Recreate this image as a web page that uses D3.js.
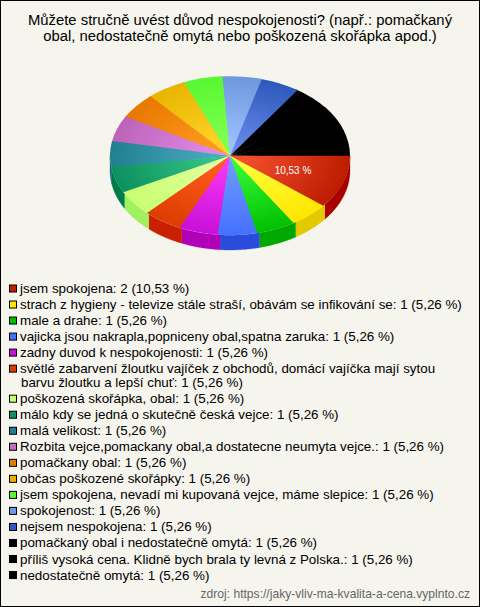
<!DOCTYPE html>
<html><head><meta charset="utf-8">
<script src="https://cdn.jsdelivr.net/npm/d3@7"></script>
<style>html,body{margin:0;padding:0;background:#f5f4ed}svg{display:block}text{font-family:"Liberation Sans",Arial,sans-serif}</style>
</head><body><svg id="c" width="480" height="607"></svg>
<script>
const titleLines=["Můžete stručně uvést důvod nespokojenosti? (např.: pomačkaný","obal, nedostatečně omytá nebo poškozená skořápka apod.)"];
const source="zdroj: https://jaky-vliv-ma-kvalita-a-cena.vyplnto.cz";
const categories=[
["jsem spokojena"],
["strach z hygieny - televize stále straší, obávám se infikování se"],
["male a drahe"],
["vajicka jsou nakrapla,popniceny obal,spatna zaruka"],
["zadny duvod k nespokojenosti"],
["světlé zabarvení žloutku vajíček z obchodů, domácí vajíčka mají sytou","barvu žloutku a lepší chuť"],
["poškozená skořápka, obal"],
["málo kdy se jedná o skutečně česká vejce"],
["malá velikost"],
["Rozbita vejce,pomackany obal,a dostatecne neumyta vejce."],
["pomačkany obal"],
["občas poškozené skořápky"],
["jsem spokojena, nevadí mi kupovaná vejce, máme slepice"],
["spokojenost"],
["nejsem nespokojena"],
["pomačkaný obal i nedostatečně omytá"],
["příliš vysoká cena. Klidně bych brala ty levná z Polska."],
["nedostatečně omytá"]];
const counts=[2,1,1,1,1,1,1,1,1,1,1,1,1,1,1,1,1,1];
const lightColors=["#f24e2c","#ffff3a","#34f634","#6c98ff","#f634f6","#ff5c1e","#e2ffa0","#34c484","#48a8c0","#e08ae8","#ff9a20","#ffd428","#80ff50","#9cc0ff","#6488e8","#000","#000","#000"];
const darkColors=["#bc1c00","#ffe600","#00c000","#4470ff","#c810d8","#dc3c00","#c8ff70","#0c9060","#20808f","#bc62b8","#e87800","#e8b400","#58f830","#6c98dc","#2e58bc","#000","#000","#000"];
const wallColors=["#a80000","#e2ca00","#00a800","#2a4cdc","#b000b8","#c82000","#a0f060","#007c4c","#106878","#9c4c9c","#c06000","#c09000","#40c020","#5080c0","#2040a0","#000","#000","#000"];
const swatchColors=["#c02000","#ffe600","#00c000","#4470ff","#c810d8","#e03c00","#c8ff70","#109060","#208090","#c070c0","#e87800","#e8b400","#58f830","#7098e0","#3058c0","#000","#000","#000"];

const svg=d3.select("#c");
svg.append("rect").attr("x",.5).attr("y",.5).attr("width",479).attr("height",606).attr("fill","#f5f4ed").attr("stroke","#000");
const total=d3.sum(counts);
const pct=d3.format(".2f");
const fmt=v=>pct(v/total*100).replace(".",",")+" %";

svg.append("g").selectAll("text").data(titleLines).join("text")
 .attr("x",240).attr("y",(d,i)=>25+i*15.5).attr("text-anchor","middle").attr("font-size",14.85).attr("fill","#000").text(d=>d);

const cx=230,cy=155.7,rx=120,ry=79.5,depth=14.8;
const ratio=ry/rx;
const overlap=0.02;
const pie=d3.pie().sort(null).startAngle(Math.PI/2).endAngle(Math.PI/2+2*Math.PI);
const arcs=pie(counts);
const arc=d3.arc().innerRadius(0).outerRadius(rx).startAngle(d=>d.startAngle).endAngle(d=>d.endAngle+overlap);
const defs=svg.append("defs");
arcs.forEach((a,i)=>{const g=defs.append("radialGradient").attr("id","g"+i).attr("gradientUnits","userSpaceOnUse").attr("cx",0).attr("cy",0).attr("r",rx);
 g.append("stop").attr("offset","15%").attr("stop-color",lightColors[i]);
 g.append("stop").attr("offset","100%").attr("stop-color",darkColors[i]);});

const scr=a=>a-Math.PI/2;
const wallArea=d3.area().x(t=>cx+rx*Math.cos(t)).y0(t=>cy+ry*Math.sin(t)).y1(t=>cy+ry*Math.sin(t)+depth);
const walls=svg.append("g");
arcs.forEach((a,i)=>{
 const s=scr(a.startAngle),e=Math.min(scr(a.endAngle),Math.PI);
 if(s>=Math.PI)return;
 walls.append("path").attr("d",wallArea(d3.range(0,41).map(k=>s+(e-s)*k/40))).attr("fill",wallColors[i]).attr("stroke",wallColors[i]).attr("stroke-width",.3);
});
svg.append("g").attr("transform",`translate(${cx},${cy}) scale(1,${ratio})`)
 .selectAll("path").data(arcs.slice().reverse()).join("path").attr("d",arc).attr("fill",d=>`url(#g${d.index})`);
const mx=d3.max(counts);
svg.append("g").selectAll("text").data(arcs.filter(a=>a.data===mx)).join("text")
 .attr("x",d=>cx+rx*.52*Math.cos(scr((d.startAngle+d.endAngle)/2))+4)
 .attr("y",d=>cy+ry*.52*Math.sin(scr((d.startAngle+d.endAngle)/2))+5)
 .attr("text-anchor","middle").attr("font-size",10).attr("fill","#fff").text(d=>fmt(d.data));

const rowH=16.03;
let row=0;
const legend=svg.append("g");
categories.forEach((lines,i)=>{
 const y=288.5+row*rowH;
 legend.append("rect").attr("x",9.5).attr("y",y-3.5).attr("width",7).attr("height",7).attr("fill",swatchColors[i]).attr("stroke","#000");
 lines.forEach((l,k)=>{
  const txt=k===lines.length-1?`${l}: ${counts[i]} (${fmt(counts[i])})`:l;
  legend.append("text").attr("x",k?21:20).attr("y",y+4.5+k*14).attr("font-size",13.36).attr("fill","#000").text(txt);
 });
 row+=lines.length>1?1.875:1;
});
svg.append("text").attr("x",470).attr("y",598).attr("text-anchor","end").attr("font-size",12.1).attr("fill","#666").text(source);
</script></body></html>
